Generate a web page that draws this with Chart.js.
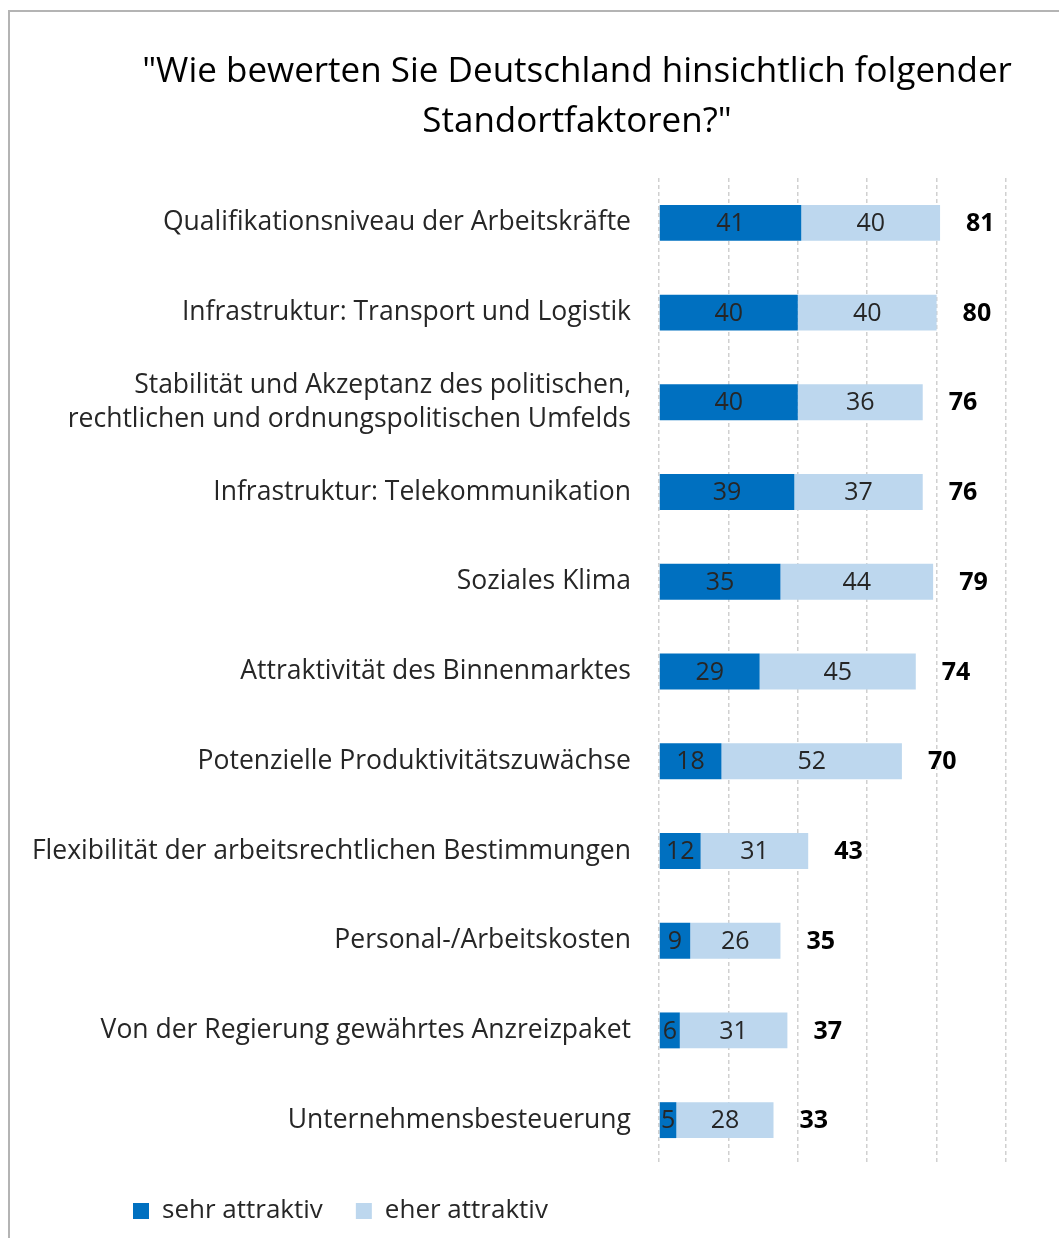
<!DOCTYPE html>
<html>
<head>
<meta charset="utf-8">
<script src="https://cdn.jsdelivr.net/npm/chart.js@4.4.1/dist/chart.umd.min.js"></script>
<style>
  html, body { margin: 0; padding: 0; background: #fff; }
  #wrap { position: relative; width: 1059px; height: 1238px; overflow: hidden; }
  #frame { position: absolute; left: 8px; top: 10px; width: 1100px; height: 1300px;
           border: 2px solid #b4b4b4; box-sizing: border-box; }
  canvas { position: absolute; left: 0; top: 0; }
</style>
</head>
<body>
<div id="wrap">
  <div id="frame"></div>
  <canvas id="chart" width="1059" height="1238"></canvas>
</div>
<script>
const categories = [
    "Qualifikationsniveau der Arbeitskräfte",
    "Infrastruktur: Transport und Logistik",
    ["Stabilität und Akzeptanz des politischen,", "rechtlichen und ordnungspolitischen Umfelds"],
    "Infrastruktur: Telekommunikation",
    "Soziales Klima",
    "Attraktivität des Binnenmarktes",
    "Potenzielle Produktivitätszuwächse",
    "Flexibilität der arbeitsrechtlichen Bestimmungen",
    "Personal-/Arbeitskosten",
    "Von der Regierung gewährtes Anzreizpaket",
    "Unternehmensbesteuerung"
];
const sehrAttraktiv = [41, 40, 40, 39, 35, 29, 18, 12, 9, 6, 5];
const eherAttraktiv = [40, 40, 36, 37, 44, 45, 52, 31, 26, 31, 28];
const totals = [81, 80, 76, 76, 79, 74, 70, 43, 35, 37, 33];
const titleLines = ["\"Wie bewerten Sie Deutschland hinsichtlich folgender", "Standortfaktoren?\""];

const FONT = "'Open Sans', sans-serif";
const TEXT = "#262626";

// title drawn by hand so it can sit off-centre like the original
const titlePlugin = {
    id: "titlePlugin",
    afterLayout(chart) {
        // legend starts further right than the long axis labels
        chart.legend.left = 100;
    },
    afterDraw(chart) {
        const ctx = chart.ctx;
        ctx.save();
        ctx.font = "35px " + FONT;
        ctx.fillStyle = "#000";
        ctx.textAlign = "center";
        ctx.textBaseline = "middle";
        ctx.fillText(titleLines[0], 577, 72);
        ctx.fillText(titleLines[1], 577, 122);
        ctx.restore();
    }
};

// labels in the bars and the totals behind them
const valueLabels = {
    id: "valueLabels",
    afterDatasetsDraw(chart) {
        const ctx = chart.ctx;
        ctx.save();
        ctx.textBaseline = "middle";
        chart.data.datasets.forEach((ds, i) => {
            const meta = chart.getDatasetMeta(i);
            meta.data.forEach((bar, j) => {
                ctx.font = "25px " + FONT;
                ctx.fillStyle = TEXT;
                ctx.textAlign = "center";
                ctx.fillText(ds.data[j], (bar.x + bar.base) / 2, bar.y + 1);
                if (i === chart.data.datasets.length - 1) {
                    ctx.font = "bold 25px " + FONT;
                    ctx.fillStyle = "#000";
                    ctx.textAlign = "left";
                    ctx.fillText(totals[j], bar.x + 26, bar.y + 1);
                }
            });
        });
        ctx.restore();
    }
};

new Chart(document.getElementById("chart"), {
    type: "bar",
    data: {
        labels: categories,
        datasets: [
            { label: "sehr attraktiv", data: sehrAttraktiv, backgroundColor: "#0070C0",
              barPercentage: 0.4, categoryPercentage: 1 },
            { label: "eher attraktiv", data: eherAttraktiv, backgroundColor: "#BDD7EE",
              barPercentage: 0.4, categoryPercentage: 1 }
        ]
    },
    options: {
        indexAxis: "y",
        responsive: false,
        animation: false,
        layout: { padding: { left: 12, right: 53, top: 178, bottom: 4 } },
        plugins: {
            tooltip: { enabled: false },
            title: { display: false },
            legend: {
                position: "bottom",
                align: "start",
                labels: {
                    color: TEXT,
                    font: { family: FONT, size: 26 },
                    boxWidth: 16,
                    boxHeight: 16,
                    padding: 33
                }
            }
        },
        scales: {
            x: {
                stacked: true,
                min: 0,
                max: 100,
                ticks: { display: false, stepSize: 20 },
                grid: { color: "#d0d0d0", lineWidth: 1.5, drawTicks: false },
                border: { display: false, dash: [4, 3] }
            },
            y: {
                stacked: true,
                grid: { display: false, drawTicks: false },
                border: { display: false },
                ticks: { color: TEXT, font: { family: FONT, size: 26.5, lineHeight: 1.26 }, padding: 28, autoSkip: false },
                afterFit(scale) { scale.width = 659 - 12; }
            }
        }
    },
    plugins: [valueLabels, titlePlugin]
});
</script>
</body>
</html>
